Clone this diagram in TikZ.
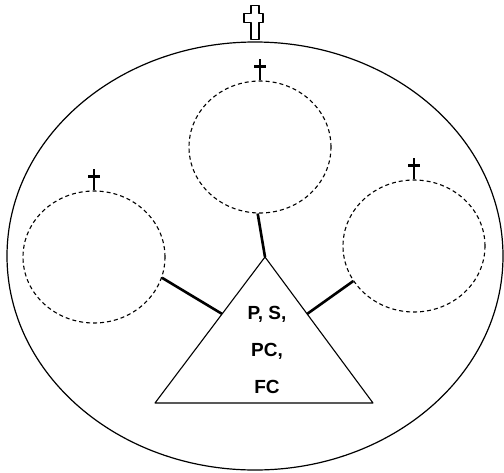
\documentclass[tikz,border=0pt]{standalone}
\usepackage{fontspec}
\setsansfont{Liberation Sans}
\usetikzlibrary{calc,positioning,shapes.geometric}
\definecolor{fundo}{HTML}{FFFFFF}
\definecolor{traco}{HTML}{000000}
\begin{document}
\begin{tikzpicture}[x=1pt,y=-1pt, circ/.style={ellipse, draw=traco, line width=1.1pt, dash pattern=on 4pt off 3pt, minimum width=142pt, minimum height=132pt, inner sep=0pt},
  lig/.style={draw=traco, line width=2.6pt}, cruz/.style={draw=traco, line width=2.6pt},
  rotulo/.style={font=\sffamily\bfseries\fontsize{19}{37}\selectfont, align=center, text=traco}]
  \useasboundingbox[fill=fundo] (0,0) rectangle (504,472);
  \node[ellipse, draw=traco, line width=1.2pt, minimum width=496pt, minimum height=428pt, inner sep=0pt] (terra) at (255,256) {};
  \node[circ] (c1) at (94,257) {};
  \node[circ] (c2) at (260,147) {};
  \node[circ] (c3) at (414,246) {};
  % triangulo
  \coordinate (topo) at (265,257); \coordinate (be) at (155,403); \coordinate (bd) at (373,403);
  \draw[traco, line width=1.1pt, line join=round] (topo) -- (be) -- (bd) -- cycle;
  \coordinate (le) at ($(topo)!0.39!(be)$); \coordinate (ld) at ($(topo)!0.39!(bd)$);
  \node[rotulo] (txt) at (267,350) {P, S,\\PC,\\FC};
  \draw[lig] (c1.-17) -- (le); \draw[lig] (c3.210) -- (ld); \draw[lig] (c2.268) -- (topo);
  % cruzes
  \foreach \c in {c1,c2,c3}{\draw[cruz] (\c.north) -- ++(0,-21);
    \draw[traco, line width=2.2pt] ($(\c.north)+(-6,-14)$) -- ++(12,0);}
  \draw[traco, line width=1.8pt, line join=round] ($(terra.north)+(-4,-2)$) -- ++(0,-17) -- ++(-7,0) -- ++(0,-9) -- ++(7,0) -- ++(0,-8) -- ++(8,0) -- ++(0,8) -- ++(4,0) -- ++(0,9) -- ++(-4,0) -- ++(0,17) -- cycle;
\end{tikzpicture}
\end{document}
